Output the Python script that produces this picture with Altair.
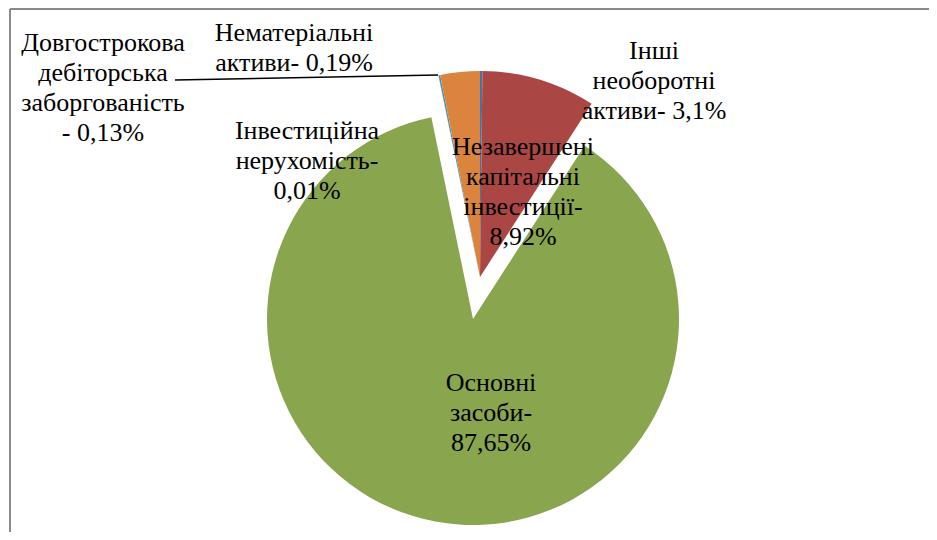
import altair as alt
import pandas as pd

# Data (clockwise from 12 o'clock)
names = ["Нематеріальні активи", "Незавершені капітальні інвестиції", "Основні засоби",
         "Інвестиційна нерухомість", "Довгострокова дебіторська заборгованість",
         "Інші необоротні активи"]
values = [0.19, 8.92, 87.65, 0.01, 0.13, 3.1]
colors = ["#4572A7", "#AA4643", "#89A54E", "#71588F", "#4198AF", "#DB843D"]
labels = [
    "Нематеріальні\nактиви- 0,19%",
    "Незавершені\nкапітальні\nінвестиції-\n8,92%",
    "Основні\nзасоби-\n87,65%",
    "Інвестиційна\nнерухомість-\n0,01%",
    "Довгострокова\nдебіторська\nзаборгованість\n- 0,13%",
    "Інші\nнеоборотні\nактиви- 3,1%",
]

df = pd.DataFrame({"name": names, "value": values, "order": list(range(len(names)))})

W, H = 921, 524
CX, CY, R = 472, 269, 206
EXPLODED = "Основні засоби"
FONT = "'Liberation Serif', 'Times New Roman', 'DejaVu Serif', serif"

color_scale = alt.Scale(domain=names, range=colors)
base = alt.Chart(df)

pie_rest = base.mark_arc(radius=R).encode(
    theta=alt.Theta("value:Q", stack=True),
    order=alt.Order("order:Q"),
    color=alt.Color("name:N", scale=color_scale, legend=None),
    opacity=alt.condition(alt.datum.name == EXPLODED, alt.value(0), alt.value(1)),
    x=alt.value(CX), y=alt.value(CY),
)
pie_expl = base.mark_arc(radius=R, xOffset=-7, yOffset=42).encode(
    theta=alt.Theta("value:Q", stack=True),
    order=alt.Order("order:Q"),
    color=alt.Color("name:N", scale=color_scale, legend=None),
    opacity=alt.condition(alt.datum.name == EXPLODED, alt.value(1), alt.value(0)),
    x=alt.value(CX), y=alt.value(CY),
)

# first-line centres of each label block (chart coords)
label_pos = [(286, 25), (515, 139), (483, 375), (299, 123), (95, 35), (646, 43)]

layers = [pie_rest, pie_expl]

# leader line for Довгострокова дебіторська заборгованість
layers.append(
    alt.Chart(pd.DataFrame({"a": [0]})).mark_rule(color="black", strokeWidth=1.5).encode(
        x=alt.value(167), y=alt.value(72), x2=alt.value(430), y2=alt.value(67))
)

for txt, (lx, ly) in zip(labels, label_pos):
    layers.append(
        alt.Chart(pd.DataFrame({"label": [txt]})).mark_text(
            font=FONT, fontSize=26, lineBreak="\n", lineHeight=30,
            align="center", baseline="middle", color="black"
        ).encode(text="label:N", x=alt.value(lx), y=alt.value(ly))
    )

# frame
layers.append(
    alt.Chart(pd.DataFrame({"a": [0]})).mark_rule(color="#8a8a8a", strokeWidth=2).encode(
        x=alt.value(2), y=alt.value(1), x2=alt.value(W), y2=alt.value(1))
)
layers.append(
    alt.Chart(pd.DataFrame({"a": [0]})).mark_rule(color="#8a8a8a", strokeWidth=2).encode(
        x=alt.value(2), y=alt.value(1), y2=alt.value(H))
)

chart = alt.layer(*layers).properties(
    width=W, height=H, autosize="none", padding=0
).configure_view(stroke=None)

chart.save("out.html", embed_options={"renderer": "svg", "actions": False})
